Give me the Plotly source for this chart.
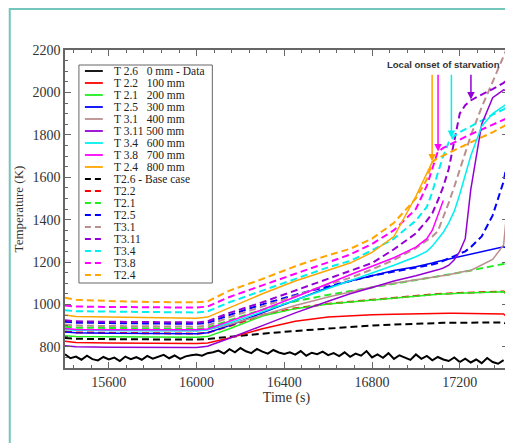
import plotly.graph_objects as go

# ---------------- data ----------------
TIME = [15400, 15450, 15600, 15800, 16000, 16050, 16150, 16300, 16450, 16600,
        16700, 16800, 16900, 17000, 17050, 17075, 17100, 17125, 17150, 17175,
        17200, 17225, 17250, 17300, 17350, 17400, 17420]

DATA_TIME = list(range(15400, 17401, 25))
T26_DATA = [765, 746, 754, 739, 758, 742, 736, 752, 740,
            749, 733, 754, 742, 751, 739, 757, 744,
            754, 762, 746, 759, 743, 755, 760, 764,
            758, 770, 774, 782, 768, 789, 774, 794,
            779, 770, 790, 777, 768, 785, 773, 766,
            774, 763, 780, 758, 772, 765, 777, 761,
            770, 756, 774, 753, 768, 758, 780, 750,
            764, 748, 770, 743, 760, 750, 738, 764,
            743, 757, 736, 752, 740, 733, 750, 728,
            744, 726, 740, 723, 747, 728, 720, 737]

N = None
T22_DATA = [826, 820, 818, 815, 815, 818, 842, 885, 920, 940, 947, 951, 954, 957, 958, 958, 958, 958, 958, 958, 958, 958, 958, 957, 956, 955, 935]
T21_DATA = [852, 848, 847, 845, 845, 848, 885, 945, 980, 1002, 1012, 1022, 1032, 1040, 1044, 1046, 1048, 1050, 1051, 1052, 1053, 1054, 1055, 1057, 1059, 1060, 1040]
T25_DATA = [870, 866, 864, 862, 862, 866, 900, 960, 1020, 1080, 1110, 1135, 1160, 1178, 1188, 1195, 1202, 1208, 1214, 1220, 1226, 1232, 1238, 1250, 1262, 1272, 1262]
T31_DATA = [884, 880, 878, 876, 876, 880, 905, 950, 995, 1035, 1060, 1082, 1100, 1115, 1122, 1126, 1130, 1134, 1140, 1146, 1152, 1156, 1160, 1185, 1212, 1280, 1500]
T311_DATA = [805, 800, 798, 797, 797, 803, 840, 900, 960, 1015, 1050, 1080, 1110, 1135, 1148, 1155, 1163, 1172, 1185, 1210, 1250, 1310, 1540, 1850, 1975, 2012, 2005]
T34_DATA = [882, 878, 877, 876, 876, 880, 912, 965, 1020, 1075, 1110, 1150, 1185, 1225, 1250, 1275, 1305, 1340, 1385, 1440, 1520, 1610, 1700, 1840, 1900, 1935, 1950]
T38_DATA = [886, 882, 881, 880, 880, 884, 920, 975, 1035, 1100, 1140, 1180, 1220, 1270, 1310, 1350, 1420, 1490, N, N, N, N, N, N, N, N, N]
T24_DATA = [950, 943, 940, 936, 935, 940, 985, 1050, 1110, 1160, 1195, 1245, 1320, 1510, 1620, 1672, N, N, N, N, N, N, N, N, N, N, N]

T26_BASE = [842, 838, 836, 834, 834, 837, 848, 862, 875, 887, 893, 900, 905, 910, 911, 912, 912, 913, 913, 913, 914, 914, 914, 915, 915, 915, 905]
T22_BASE = [872, 868, 866, 863, 862, 866, 898, 950, 982, 1003, 1013, 1023, 1033, 1041, 1045, 1047, 1049, 1051, 1052, 1053, 1054, 1055, 1056, 1058, 1060, 1061, 1045]
T21_BASE = [895, 890, 889, 886, 885, 889, 925, 975, 1015, 1045, 1062, 1080, 1098, 1115, 1123, 1127, 1131, 1135, 1140, 1145, 1150, 1155, 1160, 1170, 1180, 1190, 1195]
T25_BASE = [918, 914, 912, 909, 908, 912, 950, 1000, 1045, 1085, 1110, 1135, 1155, 1172, 1182, 1188, 1195, 1205, 1215, 1228, 1240, 1250, 1270, 1321, 1420, 1580, 1690]
T31_BASE = [905, 900, 898, 896, 895, 900, 940, 990, 1040, 1095, 1125, 1165, 1210, 1265, 1300, 1320, 1345, 1410, 1480, 1555, 1630, 1715, 1795, 1930, 2050, 2170, 2220]
T311_BASE = [925, 920, 918, 916, 915, 920, 960, 1010, 1065, 1120, 1155, 1195, 1260, 1335, 1395, 1430, 1490, 1555, 1640, 1770, 1900, 1940, 1962, 1990, 2015, 2045, 2060]
T34_BASE = [972, 968, 966, 963, 962, 967, 1010, 1065, 1120, 1175, 1205, 1255, 1310, 1395, 1460, 1530, 1620, 1700, 1765, 1795, 1812, 1826, 1840, 1870, 1895, 1920, 1935]
T38_BASE = [995, 990, 988, 986, 985, 990, 1035, 1090, 1145, 1200, 1235, 1285, 1350, 1450, 1560, 1640, 1721, 1738, 1752, 1765, 1778, 1790, 1802, 1826, 1850, 1872, 1880]
T24_BASE = [1032, 1022, 1016, 1011, 1010, 1014, 1065, 1120, 1180, 1232, 1262, 1310, 1385, 1500, 1590, 1672, 1690, 1703, 1715, 1727, 1740, 1752, 1764, 1788, 1812, 1840, 1852]

DATA_LABELS = ["T 2.6\u00a0\u00a0\u00a00 mm - Data", "T 2.2\u00a0\u00a0\u00a0100 mm", "T 2.1\u00a0\u00a0\u00a0200 mm",
               "T 2.5\u00a0\u00a0\u00a0300 mm", "T 3.1\u00a0\u00a0\u00a0400 mm", "T 3.11\u00a0500 mm",
               "T 3.4\u00a0\u00a0\u00a0600 mm", "T 3.8\u00a0\u00a0\u00a0700 mm", "T 2.4\u00a0\u00a0\u00a0800 mm"]
BASE_LABELS = ["T2.6 - Base case", "T2.2", "T2.1", "T2.5", "T3.1", "T3.11", "T3.4", "T3.8", "T2.4"]
COLORS = ["#000000", "#ff0000", "#22ee22", "#0000ff", "#bc8f8f", "#9400d3", "#00f0f0", "#ff00ff", "#ffa500"]

ARROW_TIME = [17074, 17101, 17162, 17251]
ARROW_TIP = [1674, 1721, 1785, 1967]
ARROW_TAIL = 2090
ARROW_COLORS = ["#ffa500", "#ff00ff", "#00f0f0", "#9400d3"]

# ---------------- figure ----------------
OFF = 8  # page body margin
W, H = 513 - OFF, 443 - OFF
ML, MR, MT, MB = 65 - OFF, 3, 50 - OFF, 75
PW, PH = W - ML - MR, H - MT - MB


def px(x):  # page pixel x -> paper
    return (x - OFF - ML) / PW


def py(y):  # page pixel y -> paper
    return (H - MB - (y - OFF)) / PH


data_vals = [T26_DATA, T22_DATA, T21_DATA, T25_DATA, T31_DATA, T311_DATA, T34_DATA, T38_DATA, T24_DATA]
base_vals = [T26_BASE, T22_BASE, T21_BASE, T25_BASE, T31_BASE, T311_BASE, T34_BASE, T38_BASE, T24_BASE]

fig = go.Figure()
for lab, vals, col in zip(BASE_LABELS, base_vals, COLORS):
    fig.add_trace(go.Scatter(x=TIME, y=vals, mode="lines", name=lab, showlegend=False,
                             line=dict(color=col, width=2, dash="7px,4px")))
for i, (lab, vals, col) in enumerate(zip(DATA_LABELS, data_vals, COLORS)):
    xs = DATA_TIME if i == 0 else TIME
    fig.add_trace(go.Scatter(x=xs, y=vals, mode="lines", name=lab, showlegend=False,
                             line=dict(color=col, width=2 if i == 0 else 1.5)))

shapes = []
annotations = []

# teal outer frame
shapes.append(dict(type="rect", xref="paper", yref="paper",
                   x0=px(9.5), x1=px(540), y0=py(470), y1=py(9),
                   line=dict(color="#72c6bb", width=2), layer="below"))

# legend box
LX0, LX1, LY0, LY1 = 79, 213, 65, 283
shapes.append(dict(type="rect", xref="paper", yref="paper",
                   x0=px(LX0), x1=px(LX1), y0=py(LY1), y1=py(LY0),
                   line=dict(color="#666666", width=1), fillcolor="white", layer="above"))
all_labels = DATA_LABELS + BASE_LABELS
for i, lab in enumerate(all_labels):
    yc = 71 + 12 * i
    col = COLORS[i % 9]
    dash = "solid" if i < 9 else "6px,4px"
    shapes.append(dict(type="line", xref="paper", yref="paper",
                       x0=px(85), x1=px(103), y0=py(yc), y1=py(yc),
                       line=dict(color=col, width=2 if i >= 9 else 1.8, dash=dash), layer="above"))
    annotations.append(dict(x=px(112), y=py(yc), xref="paper", yref="paper", text=lab,
                            showarrow=False, xanchor="left", yanchor="middle",
                            font=dict(family="Liberation Serif", size=11.5, color="#222222")))

# starvation arrows
for t, tip, col in zip(ARROW_TIME, ARROW_TIP, ARROW_COLORS):
    annotations.append(dict(x=t, y=tip, ax=t, ay=ARROW_TAIL, xref="x", yref="y",
                            axref="x", ayref="y", text="", showarrow=True,
                            arrowhead=2, arrowsize=1, arrowwidth=1.5, arrowcolor=col))
annotations.append(dict(x=17127, y=2133, xref="x", yref="y", text="<b>Local onset of starvation</b>",
                        showarrow=False, xanchor="center", yanchor="middle",
                        font=dict(family="Liberation Sans", size=9.5, color="#333333")))

axis_common = dict(showline=True, linecolor="#666666", linewidth=1.5, mirror="ticks",
                   ticks="inside", ticklen=6, tickcolor="#666666", tickwidth=1.2,
                   showgrid=False, zeroline=False, tickformat="d",
                   tickfont=dict(family="Liberation Serif", size=14, color="#333333"))

fig.update_layout(
    width=W, height=H,
    margin=dict(l=ML, r=MR, t=MT, b=MB),
    paper_bgcolor="white", plot_bgcolor="white",
    showlegend=False,
    shapes=shapes, annotations=annotations,
    xaxis=dict(range=[15400, 17420], dtick=400, tick0=0,
               minor=dict(dtick=80, ticks="inside", ticklen=3, tickcolor="#666666"),
               title=dict(text="Time (s)", standoff=4,
                          font=dict(family="Liberation Serif", size=14, color="#333333")),
               **axis_common),
    yaxis=dict(range=[700, 2200], dtick=200, tick0=0,
               minor=dict(dtick=50, ticks="inside", ticklen=3, tickcolor="#666666"),
               title=dict(text="Temperature (K)", standoff=6,
                          font=dict(family="Liberation Serif", size=13, color="#333333")),
               **axis_common),
)

fig.write_html("out.html")
